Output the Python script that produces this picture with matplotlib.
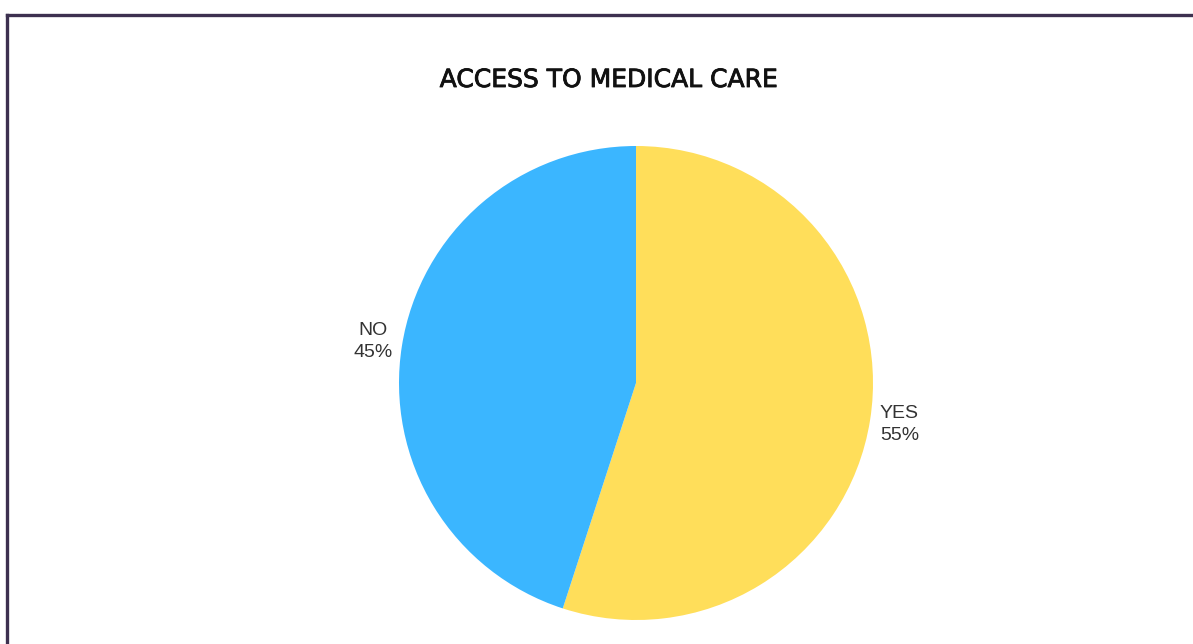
import matplotlib.pyplot as plt
import matplotlib.patheffects as pe
from matplotlib.lines import Line2D

# access to medical care survey
labels = ["YES", "NO"]
shares = [55, 45]
colors = ["#FFDE5A", "#3BB6FF"]

W, H = 1193, 644
fig = plt.figure(figsize=(W / 100, H / 100), dpi=100)
ax = fig.add_axes([0, 0, 1, 1])

wedges, texts = ax.pie(
    shares,
    labels=[f"{l}\n{s}%" for l, s in zip(labels, shares)],
    colors=colors,
    startangle=90,
    counterclock=False,
    center=(636, H - 383),
    radius=237,
    labeldistance=1.125,
    textprops=dict(fontsize=14, family="Liberation Sans", color="#333333",
                   linespacing=1.4),
    frame=True,
)
for t in texts:
    t.set_ha("center")
    t.set_va("center")
ax.set_xlim(0, W)
ax.set_ylim(0, H)
ax.set_aspect("equal")
ax.axis("off")

title = fig.text(609 / W, 1 - 80 / H, "ACCESS TO MEDICAL CARE", ha="center",
                 va="center", fontsize=18, family="DejaVu Sans", color="#111111")
title.set_path_effects([pe.withStroke(linewidth=0.6, foreground="#111111")])

# frame line along the top and left edge
fc = "#3d3150"
fig.add_artist(Line2D([7.5 / W, 7.5 / W], [0, 1 - 14.5 / H], color=fc, lw=2.4,
                      transform=fig.transFigure))
fig.add_artist(Line2D([7.5 / W, 1], [1 - 14.5 / H, 1 - 14.5 / H], color=fc, lw=2.4,
                      solid_capstyle="projecting", transform=fig.transFigure))

fig.savefig("out.png", dpi=100)
